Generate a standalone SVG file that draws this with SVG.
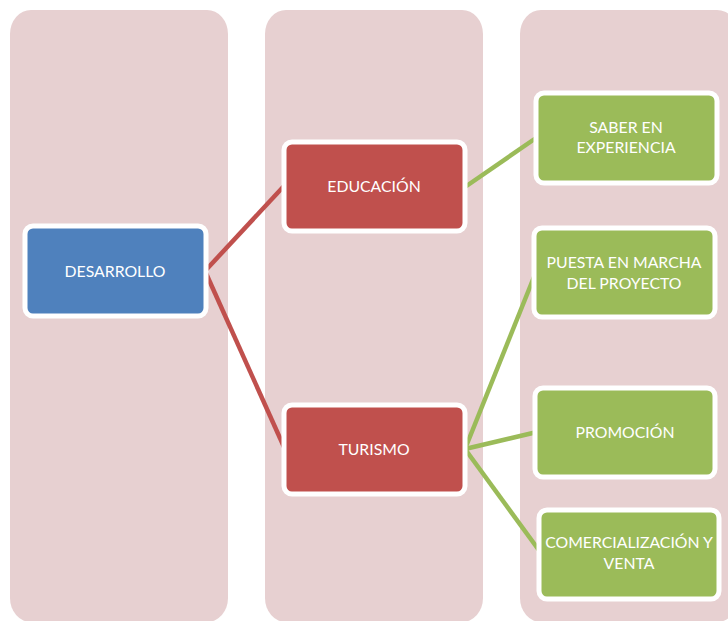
<svg xmlns="http://www.w3.org/2000/svg" width="728" height="621" viewBox="0 0 728 621">
<style>
.col{fill:#E7D0D1}
.box{stroke:#FFFFFF;stroke-width:5}
.blue{fill:#4F81BD}
.red{fill:#C0504D}
.green{fill:#9BBB59}
.lbl{font-family:"Lato","Liberation Sans",sans-serif;font-size:15.8px;fill:#FFFFFF;text-anchor:middle}
.cr{stroke:#C0504D;stroke-width:4.5;fill:none}
.cg{stroke:#9BBB59;stroke-width:4.5;fill:none}
</style>
<rect width="728" height="621" fill="#FFFFFF"/>
<g id="columns">
<rect class="col" x="10" y="10" width="218" height="612" rx="21" ry="24"/>
<rect class="col" x="265" y="10" width="218" height="612" rx="21" ry="24"/>
<rect class="col" x="520" y="10" width="218" height="612" rx="21" ry="24"/>
</g>
<g id="connectors">
<path class="cr" d="M205,271 L284,186"/>
<path class="cr" d="M205,271 L284,447"/>
<path class="cg" d="M465,187 L536,138"/>
<path class="cg" d="M465,449 L536,272"/>
<path class="cg" d="M465,449 L537,432"/>
<path class="cg" d="M465,449 L541,553"/>
</g>
<g id="desarrollo">
<rect class="box blue" x="25" y="226" width="181" height="90" rx="8"/>
<text class="lbl" x="115" y="277">DESARROLLO</text>
</g>
<g id="educacion">
<rect class="box red" x="284" y="142" width="181" height="89" rx="8"/>
<text class="lbl" x="374" y="192">EDUCACIÓN</text>
</g>
<g id="turismo">
<rect class="box red" x="284" y="405" width="181" height="89" rx="8"/>
<text class="lbl" x="374" y="455">TURISMO</text>
</g>
<g id="saber">
<rect class="box green" x="536" y="93" width="181" height="90" rx="8"/>
<text class="lbl" x="626" y="133">SABER EN</text>
<text class="lbl" x="626" y="153">EXPERIENCIA</text>
</g>
<g id="puesta">
<rect class="box green" x="534" y="228" width="181" height="89" rx="8"/>
<text class="lbl" x="624" y="268">PUESTA EN MARCHA</text>
<text class="lbl" x="624" y="289">DEL PROYECTO</text>
</g>
<g id="promocion">
<rect class="box green" x="535" y="388" width="180" height="89" rx="8"/>
<text class="lbl" x="625" y="438">PROMOCIÓN</text>
</g>
<g id="comercializacion">
<rect class="box green" x="539" y="510" width="180" height="89" rx="8"/>
<text class="lbl" x="629" y="548">COMERCIALIZACIÓN Y</text>
<text class="lbl" x="629" y="569">VENTA</text>
</g>
</svg>
